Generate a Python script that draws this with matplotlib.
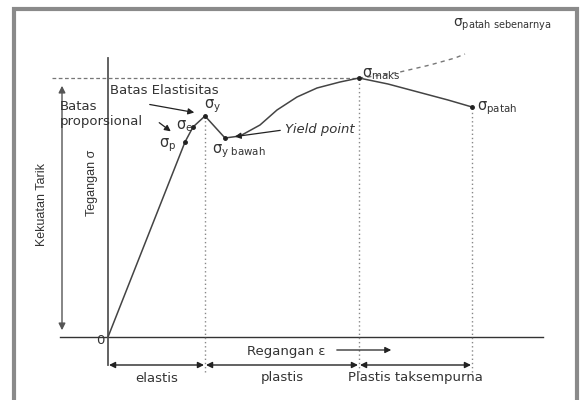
import matplotlib
matplotlib.use("Agg")
import matplotlib.pyplot as plt
from matplotlib.patches import Rectangle

plt.rcParams['font.family'] = ['DejaVu Sans']
plt.rcParams['mathtext.fontset'] = 'custom'
plt.rcParams['mathtext.rm'] = 'DejaVu Sans'
plt.rcParams['mathtext.it'] = 'DejaVu Sans:italic'

# Engineering stress-strain curve (schematic units)
strain = [0, 77, 85, 97, 117, 132, 152, 169, 189, 209, 232, 251, 280, 310, 340, 364]
stress = [0, 195, 210, 221, 199, 201, 212, 227, 240, 249, 255, 259, 253, 245, 237, 230]
# True fracture continuation (dashed)
true_strain = [251, 260, 292, 322, 347, 357]
true_stress = [259, 260, 265, 272, 279, 283]
# Key points
key_names = ['p', 'e', 'y', 'yb', 'max', 'patah']
key_strain = [77, 85, 97, 117, 251, 364]
key_stress = [195, 210, 221, 199, 259, 230]
# Regions
region_labels = ['elastis', 'plastis', 'Plastis taksempurna']
region_edges = [0, 97, 251, 364]

fig = plt.figure(figsize=(5.8, 4.0), dpi=100)
ax = fig.add_axes([0, 0, 1, 1])
ax.set_xlim(-108, 472)
ax.set_ylim(-63, 337)
ax.axis('off')

# frame
ax.add_patch(Rectangle((-94, -80), 563, 408, fill=False, ec='#8a8a8a', lw=3))

fs = 9.5
tc = '#333333'
lc = '#333333'
vfont = ['Liberation Sans', 'DejaVu Sans']

# axes lines
ax.plot([-48, 435], [0, 0], color=lc, lw=1)
ax.plot([0, 0], [-28, 279], color='#555555', lw=1.3)

# horizontal dashed line at max stress
ax.plot([-56, key_strain[4]], [key_stress[4]] * 2, color='#777777', lw=0.9, ls=(0, (3, 2)))

# vertical dotted lines
for xs, ys in zip([key_strain[2], key_strain[4], key_strain[5]], [key_stress[2], key_stress[4], key_stress[5]]):
    ax.plot([xs, xs], [-35, ys], color='#888888', lw=1, ls=(0, (1, 2)))

# curve
ax.plot(strain, stress, color='#444444', lw=1.1)
ax.plot(true_strain, true_stress, color='#777777', lw=1, ls=(0, (3, 3)))
ax.plot(key_strain, key_stress, 'o', color='#222222', ms=2.5)

# Kekuatan Tarik double arrow
ax.annotate('', xy=(-46, 254), xytext=(-46, 4),
            arrowprops=dict(arrowstyle='<|-|>', color='#555555', lw=1, mutation_scale=10))
ax.text(-66, 132, 'Kekuatan Tarik', rotation=90, ha='center', va='center', fontsize=9, color=tc, family=vfont)
ax.text(-16, 154, 'Tegangan σ', rotation=90, ha='center', va='center', fontsize=9, color=tc, family=vfont)
ax.text(-8, -3, '0', ha='center', va='center', fontsize=fs, color=tc)

# region arrows
for i, lab in enumerate(region_labels):
    a, b = region_edges[i], region_edges[i + 1]
    ax.annotate('', xy=(b - 1, -28), xytext=(a + 1, -28),
                arrowprops=dict(arrowstyle='<|-|>', color='#222222', lw=1, mutation_scale=9,
                                shrinkA=0, shrinkB=0))
    ax.text((a + b) / 2, -41, lab, ha='center', va='center', fontsize=fs, color=tc)

# Regangan arrow
ax.text(178, -15, 'Regangan ε', ha='center', va='center', fontsize=fs, color=tc)
ax.annotate('', xy=(286, -13), xytext=(226, -13),
            arrowprops=dict(arrowstyle='-|>', color='#222222', lw=0.9, mutation_scale=9))

# Labels with arrows
ax.text(2, 246, 'Batas Elastisitas', ha='left', va='center', fontsize=fs, color=tc)
ax.annotate('', xy=(89, 224), xytext=(39, 233),
            arrowprops=dict(arrowstyle='-|>', color='#222222', lw=0.9, mutation_scale=9))
ax.text(-48, 231, 'Batas', ha='left', va='center', fontsize=fs, color=tc)
ax.text(-48, 216, 'proporsional', ha='left', va='center', fontsize=fs, color=tc)
ax.annotate('', xy=(65, 204), xytext=(49, 216),
            arrowprops=dict(arrowstyle='-|>', color='#222222', lw=0.9, mutation_scale=9))
ax.text(177, 207, 'Yield point', ha='left', va='center', fontsize=fs, style='italic', color=tc)
ax.annotate('', xy=(124, 200), xytext=(175, 207),
            arrowprops=dict(arrowstyle='-|>', color='#222222', lw=0.9, mutation_scale=9))

# sigma labels
sfs = 10.5
ax.text(96, 231, r'$\mathrm{σ}_{\mathrm{y}}$', ha='left', va='center', fontsize=sfs, color=tc)
ax.text(68, 211, r'$\mathrm{σ}_{\mathrm{e}}$', ha='left', va='center', fontsize=sfs, color=tc)
ax.text(51, 192, r'$\mathrm{σ}_{\mathrm{p}}$', ha='left', va='center', fontsize=sfs, color=tc)
ax.text(104, 186, r'$\mathrm{σ}_{\mathrm{y\ bawah}}$', ha='left', va='center', fontsize=sfs, color=tc)
ax.text(254, 263, r'$\mathrm{σ}_{\mathrm{maks}}$', ha='left', va='center', fontsize=sfs, color=tc)
ax.text(369, 229, r'$\mathrm{σ}_{\mathrm{patah}}$', ha='left', va='center', fontsize=sfs, color=tc)
ax.text(345, 312, r'$\mathrm{σ}_{\mathrm{patah\ sebenarnya}}$', ha='left', va='center', fontsize=10, color=tc)

fig.savefig('out.png', dpi=100)
